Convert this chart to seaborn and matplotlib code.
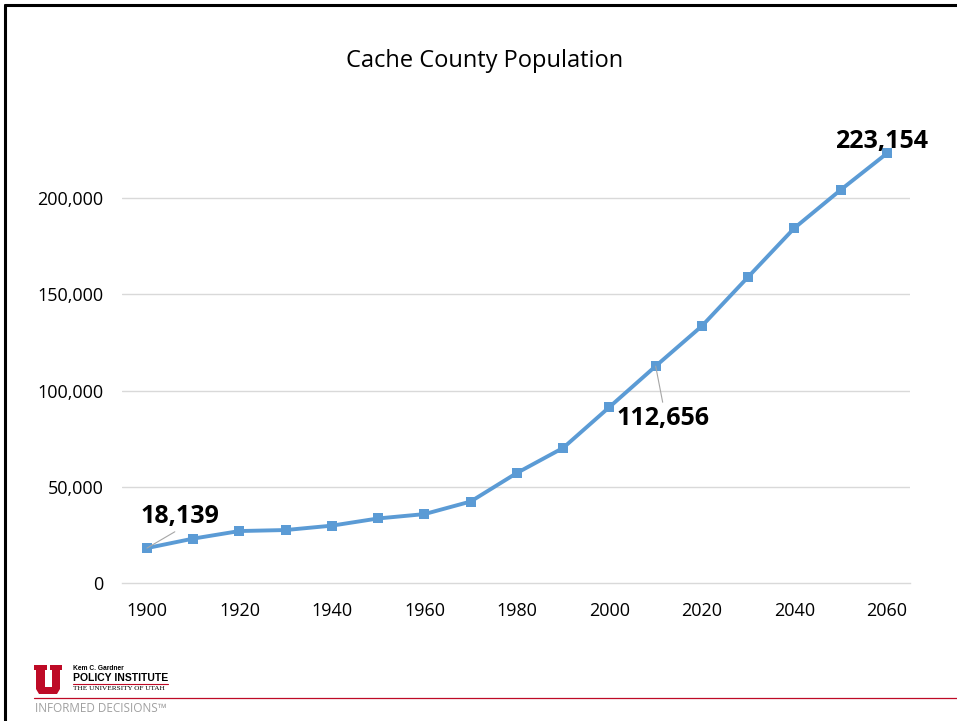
import pandas as pd
import matplotlib.pyplot as plt
import seaborn as sns
from matplotlib.patches import Polygon
from matplotlib.lines import Line2D

# Datos de población del condado de Cache (censo + proyección)
years = [1900, 1910, 1920, 1930, 1940, 1950, 1960, 1970, 1980, 1990,
         2000, 2010, 2020, 2030, 2040, 2050, 2060]
population = [18139, 23062, 26992, 27518, 29797, 33536, 35788, 42331, 57176, 70183,
              91391, 112656, 133500, 159000, 184400, 204200, 223154]
x_ticks = [1900, 1920, 1940, 1960, 1980, 2000, 2020, 2040, 2060]
y_ticks = [0, 50000, 100000, 150000, 200000]

df = pd.DataFrame({'Year': years, 'Population': population})

sns.set_style("white")
plt.rcParams['font.family'] = ['Open Sans', 'DejaVu Sans']
plt.rcParams['text.color'] = 'black'

W, H = 957, 721
fig = plt.figure(figsize=(W / 100, H / 100), dpi=100)
ax = fig.add_axes([122 / W, 1 - 583 / H, (910 - 122) / W, (583 - 121) / H])

def fx(px):
    return px / W

def fy(py):
    return 1 - py / H

sns.lineplot(data=df, x='Year', y='Population', ax=ax, color='#5B9BD5',
             linewidth=2.8, marker='s', markersize=6.5, markeredgewidth=0, zorder=3)

ax.set_xlim(1894.6, 2065)
ax.set_ylim(0, 240000)
ax.set_xticks(x_ticks)
ax.set_yticks(y_ticks)
ax.set_yticklabels([f'{v:,}' for v in y_ticks])
ax.tick_params(axis='both', labelsize=13, length=0, colors='black')
ax.tick_params(axis='x', pad=14)
ax.tick_params(axis='y', pad=13.5)
ax.set_xlabel('')
ax.set_ylabel('')
for yv in y_ticks[1:]:
    ax.axhline(yv, color='#D9D9D9', linewidth=1, zorder=1)
for side in ['top', 'right', 'left']:
    ax.spines[side].set_visible(False)
ax.spines['bottom'].set_color('#D9D9D9')
ax.spines['bottom'].set_linewidth(1)

# Etiquetas de datos
lab = dict(zip(years, population))
ax.annotate(f'{lab[1900]:,}', xy=(1900, lab[1900]), xytext=(1898.7, 34800),
            fontsize=18, fontweight='bold', ha='left', va='center',
            arrowprops=dict(arrowstyle='-', color='#A6A6A6', lw=0.8,
                            shrinkA=0, shrinkB=0, relpos=(0.5, 0)))
ax.annotate(f'{lab[2010]:,}', xy=(2010, lab[2010]), xytext=(2001.6, 85700),
            fontsize=18, fontweight='bold', ha='left', va='center',
            arrowprops=dict(arrowstyle='-', color='#A6A6A6', lw=0.8,
                            shrinkA=0, shrinkB=0, relpos=(0.5, 1)))
ax.text(2058.9, 229600, f'{lab[2060]:,}', fontsize=18, fontweight='bold',
        ha='center', va='center')

fig.text(fx(485), fy(61), 'Cache County Population', fontsize=17,
         ha='center', va='center')

# Marco de la diapositiva
fig.add_artist(Line2D([fx(5), 1], [fy(5), fy(5)], color='black', lw=2.2))
fig.add_artist(Line2D([fx(5), fx(5)], [fy(5), 0], color='black', lw=2.2))

# Logotipo
red = '#BE0A26'
u_pts = [(34, 665), (47, 665), (47, 670), (45, 670), (45, 687), (52, 687),
         (52, 670), (50, 670), (50, 665), (62, 665), (62, 670), (60, 670),
         (60, 689), (57, 694), (39, 694), (36, 689), (36, 670), (34, 670)]
fig.add_artist(Polygon([(fx(x), fy(y)) for x, y in u_pts], closed=True,
                       facecolor=red, edgecolor='none'))
narrow = ['Liberation Sans Narrow', 'Liberation Sans', 'DejaVu Sans']
fig.text(fx(73), fy(668), 'Kem C. Gardner', fontsize=4.8, fontweight='bold',
         ha='left', va='center', family=narrow)
fig.text(fx(73), fy(678), 'POLICY INSTITUTE', fontsize=7.5, fontweight='bold',
         ha='left', va='center', family=narrow)
fig.add_artist(Line2D([fx(73), fx(168)], [fy(683.5), fy(683.5)], color=red, lw=0.8))
fig.text(fx(73), fy(689), 'THE UNIVERSITY OF UTAH', fontsize=5.2,
         ha='left', va='center', family=['Liberation Serif', 'DejaVu Serif'])
fig.add_artist(Line2D([fx(34), 1], [fy(698), fy(698)], color=red, lw=0.9))
fig.text(fx(35), fy(708), 'INFORMED DECISIONS\u2122', fontsize=8.5, color='#A0A0A0',
         ha='left', va='center')

plt.savefig('out.png', dpi=100)
